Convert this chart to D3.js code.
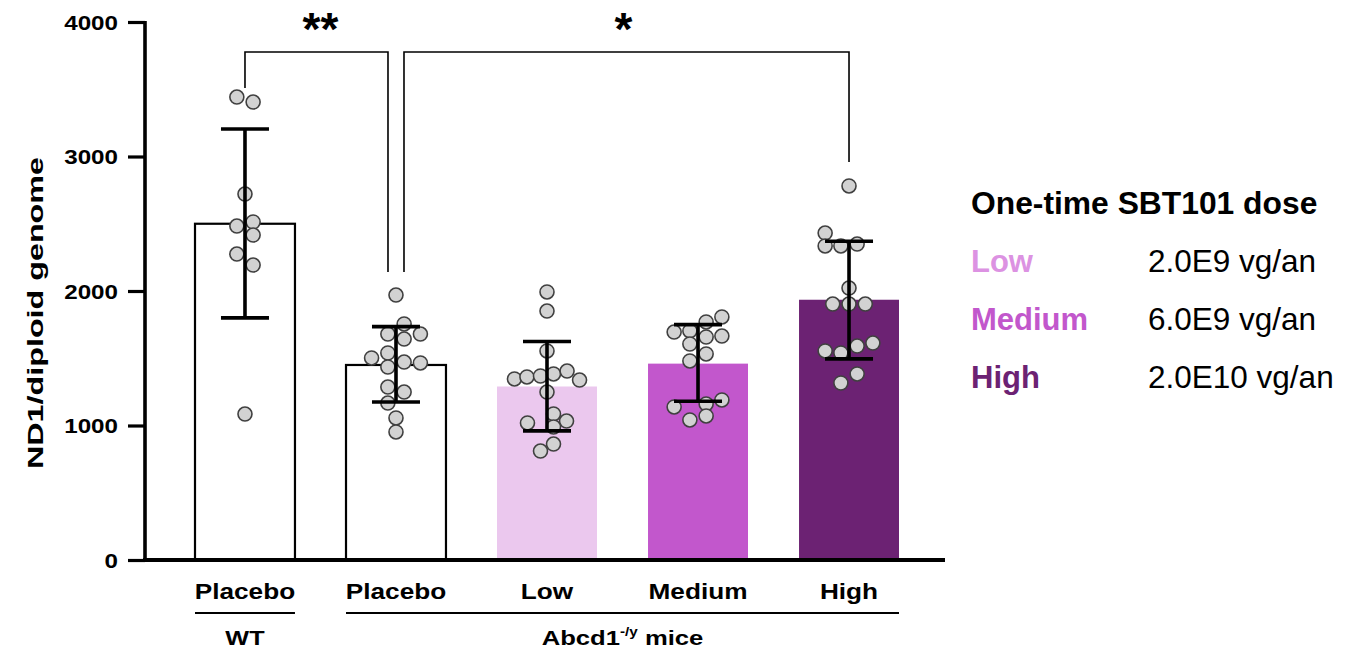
<!DOCTYPE html>
<html><head><meta charset="utf-8">
<script src="https://cdn.jsdelivr.net/npm/d3@7"></script>
<style>body{margin:0;background:#fff}svg{display:block;font-family:"Liberation Sans",Arial,sans-serif}</style>
</head><body><svg id="c" width="1368" height="651"></svg>
<script>
const groups = ["WT Placebo","Placebo","Low","Medium","High"];
const xLabels = ["Placebo","Placebo","Low","Medium","High"];
const means = [2500, 1450, 1290, 1460, 1935];
const errLow = [1800, 1175, 960, 1180, 1495];
const errHigh = [3205, 1735, 1625, 1750, 2370];
const barFills = ["#ffffff","#ffffff","#ebc8ee","#c257cc","#6c2273"];
const barStrokes = ["#000000","#000000","none","none","none"];
const yTicks = [0,1000,2000,3000,4000];
// points: [value, horizontal offset in point-diameters]
const ptsWT = [[3442,-0.75],[3405,0.75],[2721,0],[2483,-0.75],[2513,0.75],[2416,0.75],[2275,-0.75],[2193,0.75],[1085,0]];
const ptsPlacebo = [[1970,0],[1755,0.75],[1680,-0.75],[1680,2.25],[1643,0.75],[1502,-2.25],[1539,-0.75],[1435,-0.75],[1472,0.75],[1465,2.25],[1286,-0.75],[1249,0.75],[1167,-0.75],[1056,0],[952,0]];
const ptsLow = [[1993,0],[1851,0],[1554,0],[1346,-3],[1361,-1.85],[1368,-0.6],[1383,0.6],[1405,1.85],[1338,3],[1249,0],[1086,0.6],[1019,-1.8],[1033,1.8],[989,0.6],[862,0.6],[810,-0.6]];
const ptsMedium = [[1807,2.2],[1770,0.75],[1695,-2.2],[1703,-0.75],[1665,2.2],[1658,0.75],[1606,-0.75],[1532,0.75],[1480,-0.75],[1138,-2.2],[1160,0.75],[1190,2.2],[1071,0.75],[1041,-0.75]];
const ptsHigh = [[2781,0],[2431,-2.2],[2335,-2.2],[2335,-0.75],[2349,0.75],[2022,0],[1903,-1.5],[1903,0],[1903,1.5],[1554,-2.2],[1539,-0.75],[1591,0.75],[1613,2.2],[1383,0.75],[1316,-0.75]];
const points = [ptsWT, ptsPlacebo, ptsLow, ptsMedium, ptsHigh];
const legendTitle = "One-time SBT101 dose";
const legendNames = ["Low","Medium","High"];
const legendDoses = ["2.0E9 vg/an","6.0E9 vg/an","2.0E10 vg/an"];
const legendColors = ["#dc92e2","#c257cc","#6c2273"];
const sigLabels = ["**","*"];

const FONT = "Liberation Sans, Arial, sans-serif";
function stretch(sel, f){
  sel.each(function(){
    const w = this.getComputedTextLength();
    d3.select(this).attr("textLength", w*f).attr("lengthAdjust","spacingAndGlyphs");
  });
}

const svg = d3.select("#c");
const y = d3.scaleLinear().domain([0,4000]).range([560,22]);
const x = d3.scaleBand().domain(groups).range([195,899]).paddingInner(0.338).paddingOuter(0);
const bw = x.bandwidth();
const cxOf = g => x(g)+bw/2;
const r = 7;

// bars
svg.selectAll("rect.bar").data(groups).join("rect")
  .attr("x", d=>x(d)).attr("width", bw)
  .attr("y", (d,i)=>y(means[i])).attr("height", (d,i)=>y(0)-y(means[i]))
  .attr("fill",(d,i)=>barFills[i]).attr("stroke",(d,i)=>barStrokes[i]).attr("stroke-width",2.2);

// points
groups.forEach((g,i)=>{
  svg.append("g").selectAll("circle").data(points[i]).join("circle")
    .attr("cx", d=>cxOf(g) + d[1]*r*1.55).attr("cy", d=>y(d[0])).attr("r", r)
    .attr("fill","#d2d2d2").attr("stroke","#404040").attr("stroke-width",1.6);
});

// error bars
groups.forEach((g,i)=>{
  const cx = cxOf(g);
  const gg = svg.append("g").attr("stroke","#000").attr("stroke-width",3.6);
  gg.append("line").attr("x1",cx).attr("x2",cx).attr("y1",y(errLow[i])).attr("y2",y(errHigh[i]));
  [errLow[i],errHigh[i]].forEach(v=>gg.append("line").attr("x1",cx-24).attr("x2",cx+24).attr("y1",y(v)).attr("y2",y(v)));
});

// axes
const ax = svg.append("g").attr("transform","translate(145,0)")
  .call(d3.axisLeft(y).tickValues(yTicks).tickFormat(d3.format("d")).tickSize(17).tickPadding(10));
ax.attr("font-family",FONT).attr("font-size",20.5);
ax.select(".domain").remove();
ax.selectAll(".tick line").attr("stroke","#000").attr("stroke-width",3.2);
ax.selectAll(".tick text").attr("font-weight","bold").attr("fill","#000").attr("dy","0.36em");
stretch(ax.selectAll(".tick text"), 1.18);
svg.append("line").attr("x1",145).attr("x2",145).attr("y1",y(4000)-1).attr("y2",y(0)+2).attr("stroke","#000").attr("stroke-width",3.6);
svg.append("line").attr("x1",143).attr("x2",945).attr("y1",y(0)).attr("y2",y(0)).attr("stroke","#000").attr("stroke-width",4);

const yl = svg.append("text").attr("transform","translate(43,"+((y(0)+y(4000))/2 + 22)+") rotate(-90)")
  .attr("text-anchor","middle").attr("font-size",22).attr("font-weight","bold").text("ND1/diploid genome");
yl.attr("textLength",312).attr("lengthAdjust","spacingAndGlyphs");

// x labels
const xl = svg.selectAll("text.xl").data(groups).join("text")
  .attr("x", d=>cxOf(d)).attr("y",599).attr("text-anchor","middle")
  .attr("font-size",22).attr("font-weight","bold").text((d,i)=>xLabels[i]);
stretch(xl, 1.19);
svg.append("line").attr("x1",x(groups[0])).attr("x2",x(groups[0])+bw).attr("y1",613).attr("y2",613).attr("stroke","#000").attr("stroke-width",2);
svg.append("line").attr("x1",x(groups[1])).attr("x2",x(groups[4])+bw).attr("y1",613).attr("y2",613).attr("stroke","#000").attr("stroke-width",2);
const wt = svg.append("text").attr("x",cxOf(groups[0])).attr("y",645).attr("text-anchor","middle").attr("font-size",21).attr("font-weight","bold").text("WT");
stretch(wt, 1.2);
const at = svg.append("text").attr("x",(x(groups[1])+x(groups[4])+bw)/2).attr("y",645).attr("text-anchor","middle").attr("font-size",21).attr("font-weight","bold");
at.append("tspan").text("Abcd1");
at.append("tspan").attr("font-size",12.5).attr("dy",-9).text("-/y");
at.append("tspan").attr("dy",9).text(" mice");
stretch(at, 1.22);

// significance brackets
const topY = 52;
svg.append("path").attr("fill","none").attr("stroke","#000").attr("stroke-width",1.6)
  .attr("d", `M${cxOf(groups[0])},${y(3509)} V${topY} H${cxOf(groups[1])-8} V${y(2141)}`);
svg.append("path").attr("fill","none").attr("stroke","#000").attr("stroke-width",1.6)
  .attr("d", `M${cxOf(groups[1])+8},${y(2141)} V${topY} H${cxOf(groups[4])} V${y(2959)}`);
svg.append("text").attr("x",(cxOf(groups[0])+cxOf(groups[1])-8)/2 + 4).attr("y",45).attr("text-anchor","middle").attr("font-size",46).attr("font-weight","bold").text(sigLabels[0]);
svg.append("text").attr("x",(cxOf(groups[1])+8+cxOf(groups[4]))/2 - 3).attr("y",45).attr("text-anchor","middle").attr("font-size",46).attr("font-weight","bold").text(sigLabels[1]);

// legend
svg.append("text").attr("x",971).attr("y",214).attr("font-size",31.8).attr("font-weight","bold").text(legendTitle);
legendNames.forEach((n,i)=>{
  svg.append("text").attr("x",971).attr("y",272+i*58).attr("font-size",31).attr("font-weight","bold").attr("fill",legendColors[i]).text(n);
  svg.append("text").attr("x",1148).attr("y",272+i*58).attr("font-size",31.5).attr("fill","#000").text(legendDoses[i]);
});
</script></body></html>
